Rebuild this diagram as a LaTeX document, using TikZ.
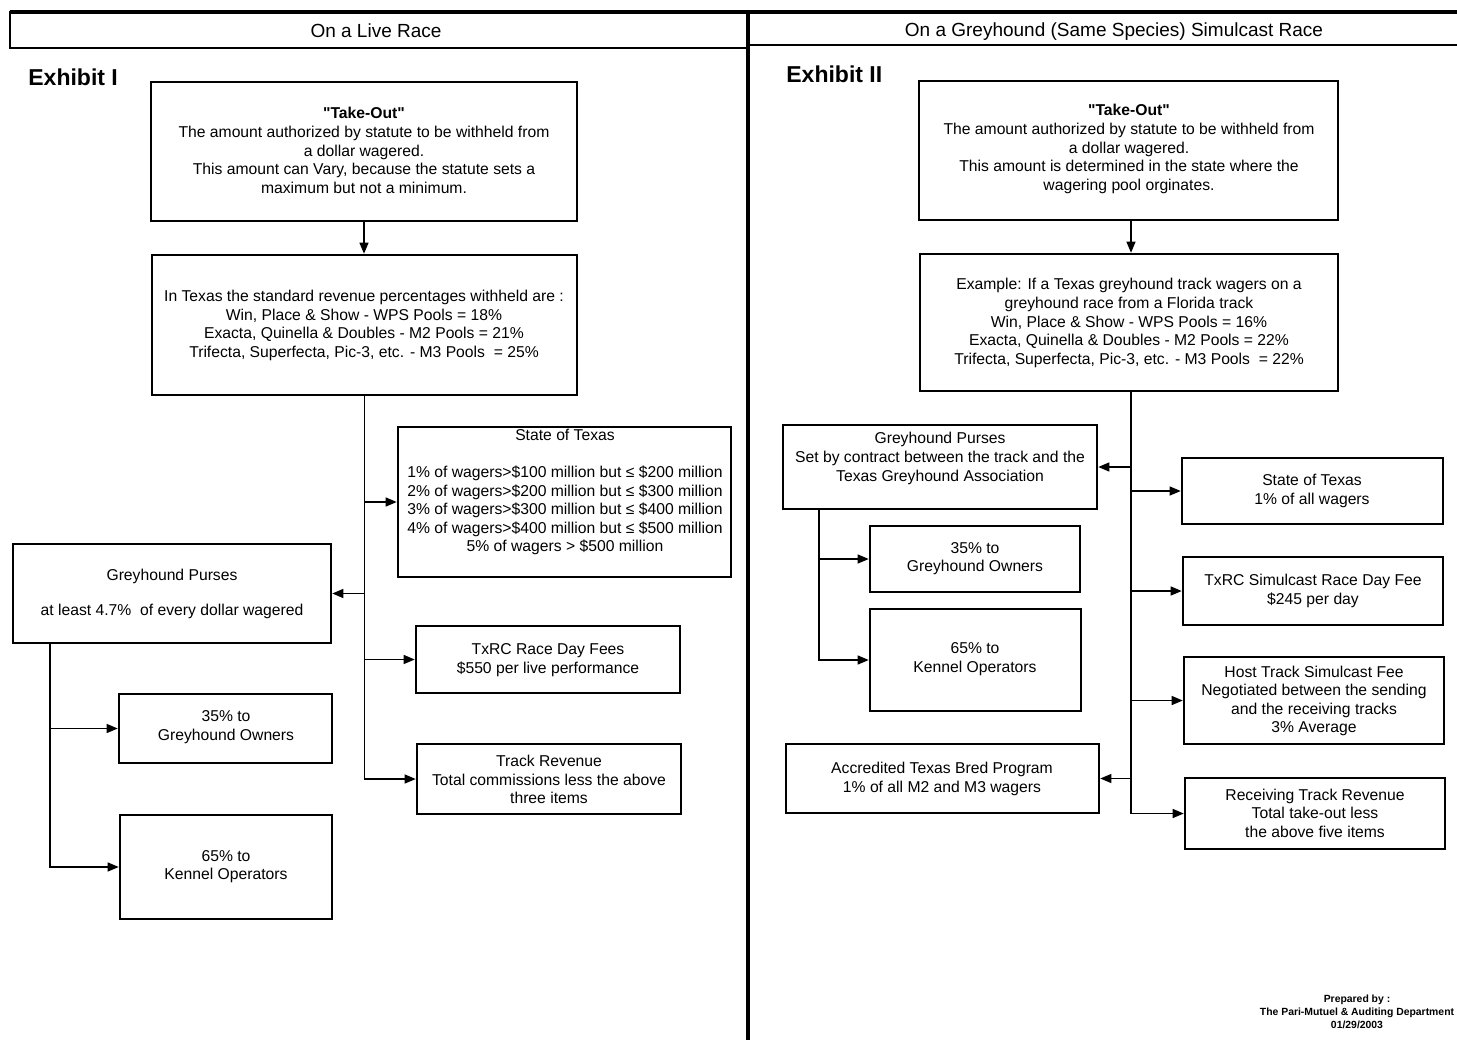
\documentclass[tikz,border=0pt]{standalone}
\usepackage{fontspec}
\setmainfont[Ligatures=TeXOff]{Liberation Sans}
\usetikzlibrary{arrows.meta,fit}
\begin{document}
\begin{tikzpicture}[x=0.5pt,y=-0.5pt,
  box/.style={draw, line width=1.3pt, inner sep=0pt},
  txt/.style={align=center, font=\fontsize{7.85}{9.3}\selectfont, inner sep=0pt},
  arr/.style={-{Triangle[length=5.5pt,width=4.5pt]}, line width=0.65pt},
  ln/.style={line width=0.65pt}]
\useasboundingbox (0,0) rectangle (1457,1040);
% header
\draw[line width=2pt] (10,12) -- (1457,12);
\node[box, fit={(10,12)(748,48)}] (hl) {};
\node[font=\fontsize{9.5}{11}\selectfont, inner sep=0pt] (hlt) at (376,31) {On a Live Race};
\draw[line width=1.3pt] (748,45) -- (1457,45);
\node[font=\fontsize{9.5}{11}\selectfont, inner sep=0pt] (hrt) at (1114,31.5) {On a Greyhound (Same Species) Simulcast Race};
\draw[line width=2.2pt] (748,12) -- (748,1040);
\node[anchor=west, inner sep=0pt, font=\bfseries\fontsize{11.5}{14}\selectfont] (ex1) at (28,77) {Exhibit I};
\node[anchor=west, inner sep=0pt, font=\bfseries\fontsize{11.5}{14}\selectfont] (ex2) at (786,74) {Exhibit II};

% ---------------- left ----------------
\node[box, fit={(151,82)(577,221)}] (tl) {};
\node[txt] (tlt) at (364,150.5) {\textbf{"Take-Out"}\\The amount authorized by statute to be withheld from\\a dollar wagered.\\This amount can Vary, because the statute sets a\\maximum but not a minimum.};
\node[box, fit={(152,255)(577,395)}] (rl) {};
\node[txt] (rlt) at (364,325.5) {In Texas the standard revenue percentages withheld are :\\Win, Place \& Show - WPS Pools = 18\%\\Exacta, Quinella \& Doubles - M2 Pools = 21\%\\Trifecta, Superfecta, Pic-3, etc. - M3 Pools \ = 25\%};
\node[box, fit={(398,427)(731,577)}] (stl) {};
\node[txt] (stlt) at (565,492) {State of Texas\\[9.3pt]1\% of wagers>\$100 million but ≤ \$200 million\\2\% of wagers>\$200 million but ≤ \$300 million\\3\% of wagers>\$300 million but ≤ \$400 million\\4\% of wagers>\$400 million but ≤ \$500 million\\5\% of wagers > \$500 million};
\node[box, fit={(13,544)(331,643)}] (gpl) {};
\node[txt] (gplt) at (172,593.5) {Greyhound Purses\\[8.2pt]at least 4.7\%\ \ of every dollar wagered};
\node[box, fit={(416,626)(680,693)}] (txl) {};
\node[txt] (txlt) at (548,660) {TxRC Race Day Fees\\\$550 per live performance};
\node[box, fit={(417,744)(681,814)}] (trl) {};
\node[txt] (trlt) at (549,779.5) {Track Revenue\\Total commissions less the above\\three items};
\node[box, fit={(119,694)(332,763)}] (gol) {};
\node[txt] (golt) at (226,727) {35\% to\\Greyhound Owners};
\node[box, fit={(120,815)(332,919)}] (kol) {};
\node[txt] (kolt) at (226,866.5) {65\% to\\Kennel Operators};

\draw[arr] (tl.south) -- (tl.south |- rl.north);
\draw[arr] (rl.south) -- (rl.south |- trl.west) -- (trl.west);
\draw[arr] (rl.south |- stl.west) -- (stl.west);
\draw[arr] (rl.south |- gpl.east) -- (gpl.east);
\draw[arr] (rl.south |- txl.west) -- (txl.west);
\coordinate (gbl) at (50,643);
\draw[arr] (gbl) -- (gbl |- kol.west) -- (kol.west);
\draw[arr] (gbl |- gol.west) -- (gol.west);

% ---------------- right ----------------
\node[box, fit={(919,81)(1338,220)}] (tr) {};
\node[txt] (trt) at (1129,149) {\textbf{"Take-Out"}\\The amount authorized by statute to be withheld from\\a dollar wagered.\\This amount is determined in the state where the\\wagering pool orginates.};
\node[box, fit={(920,254)(1338,391)}] (er) {};
\node[txt] (ert) at (1129,323) {Example: If a Texas greyhound track wagers on a\\greyhound race from a Florida track\\Win, Place \& Show - WPS Pools = 16\%\\Exacta, Quinella \& Doubles - M2 Pools = 22\%\\Trifecta, Superfecta, Pic-3, etc. - M3 Pools \ = 22\%};
\node[box, fit={(783,425)(1097,509)}] (gpr) {};
\node[txt] (gprt) at (940,458.5) {Greyhound Purses\\Set by contract between the track and the\\Texas Greyhound Association};
\node[box, fit={(1182,458)(1443,524)}] (str) {};
\node[txt] (strt) at (1312,491) {State of Texas\\1\% of all wagers};
\node[box, fit={(870,526)(1080,592)}] (gor) {};
\node[txt] (gort) at (975,558.5) {35\% to\\Greyhound Owners};
\node[box, fit={(870,609)(1081,711)}] (kor) {};
\node[txt] (kort) at (975,659) {65\% to\\Kennel Operators};
\node[box, fit={(1183,557)(1443,625)}] (txr) {};
\node[txt] (txrt) at (1313,591) {TxRC Simulcast Race Day Fee\\\$245 per day};
\node[box, fit={(1184,657)(1444,744)}] (hst) {};
\node[txt] (hstt) at (1314,701) {Host Track Simulcast Fee\\Negotiated between the sending\\and the receiving tracks\\3\% Average};
\node[box, fit={(786,744)(1099,813)}] (acc) {};
\node[txt] (acct) at (942,779) {Accredited Texas Bred Program\\1\% of all M2 and M3 wagers};
\node[box, fit={(1185,778)(1445,849)}] (rec) {};
\node[txt] (rect) at (1315,813) {Receiving Track Revenue\\Total take-out less\\the above five items};

\coordinate (tkr) at (1131,391);
\draw[arr] (tr.south -| tkr) -- (tkr |- er.north);
\draw[arr] (tkr) -- (tkr |- rec.west) -- (rec.west);
\draw[arr] (tkr |- gpr.east) -- (gpr.east);
\draw[arr] (tkr |- str.west) -- (str.west);
\draw[arr] (tkr |- txr.west) -- (txr.west);
\draw[arr] (tkr |- hst.west) -- (hst.west);
\draw[arr] (tkr |- acc.east) -- (acc.east);
\coordinate (gbr) at (819,509);
\draw[arr] (gbr) -- (gbr |- kor.west) -- (kor.west);
\draw[arr] (gbr |- gor.west) -- (gor.west);

% footer
\node[align=center, inner sep=0pt, font=\bfseries\fontsize{5.2}{6.6}\selectfont] (prep) at (1357,1012) {Prepared by :\\The Pari-Mutuel \& Auditing Department\\01/29/2003};
\end{tikzpicture}
\end{document}
